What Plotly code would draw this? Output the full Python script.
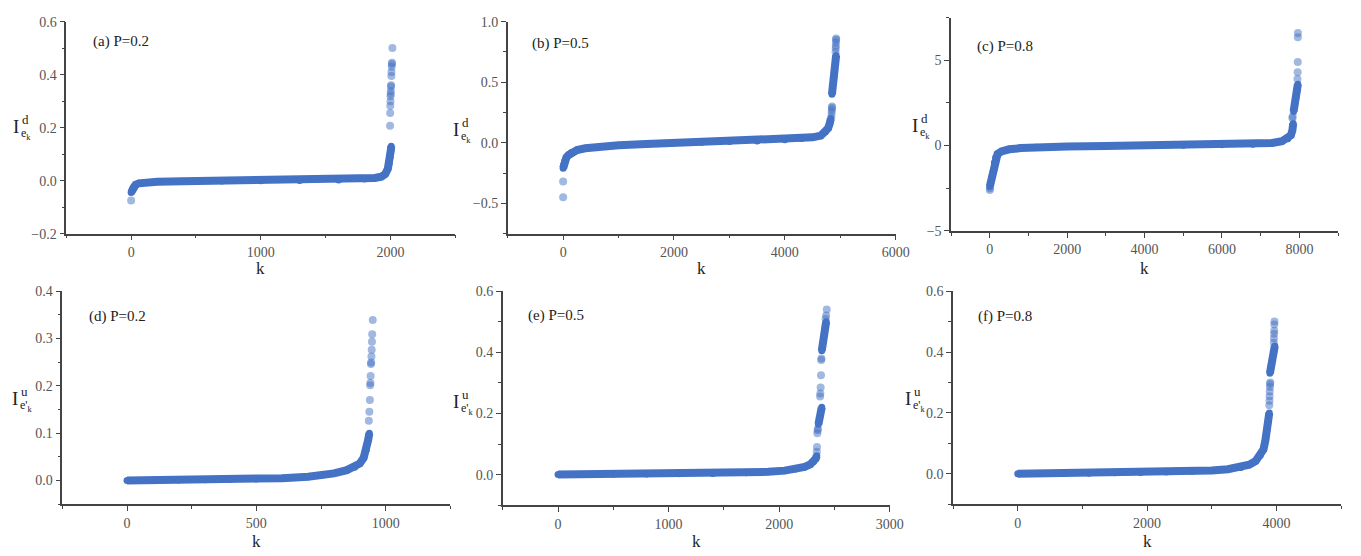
import plotly.graph_objects as go

W, H = 1361, 556
BLUE = "#4472C4"
AXC = "#444444"

# ---------------- data ----------------
# (a) P=0.2, I^d
a_core_k = [0, 5, 10, 20, 35, 60, 100, 200, 400, 700, 1000, 1300, 1600, 1800, 1880, 1930, 1960, 1980, 1990, 1998, 2003, 2006]
a_core_v = [-0.045, -0.038, -0.03, -0.022, -0.015, -0.01, -0.007, -0.004, -0.002, -0.001, 0.0, 0.001, 0.003, 0.006, 0.01, 0.015, 0.025, 0.045, 0.065, 0.09, 0.115, 0.13]
a_out_k = [0, 1997, 1998, 1999, 2000, 2001, 2002, 2003, 2004, 2005, 2007, 2008, 2010, 2011, 2012, 2015]
a_out_v = [-0.075, 0.207, 0.255, 0.283, 0.30, 0.318, 0.328, 0.338, 0.355, 0.36, 0.395, 0.41, 0.43, 0.44, 0.445, 0.50]

# (b) P=0.5, I^d
b_core_k = [0, 10, 30, 60, 100, 150, 250, 400, 700, 1000, 1500, 2000, 2500, 3000, 3500, 4000, 4300, 4500, 4650, 4730, 4780, 4810, 4830,
            None, 4850, 4865, 4880, 4895, 4910, 4925]
b_core_v = [-0.21, -0.18, -0.15, -0.12, -0.1, -0.08, -0.06, -0.045, -0.03, -0.02, -0.01, 0.0, 0.005, 0.01, 0.015, 0.025, 0.035, 0.045, 0.06, 0.09, 0.12, 0.16, 0.2,
            None, 0.40, 0.47, 0.53, 0.59, 0.65, 0.72]
b_out_k = [0, 0, 4840, 4845, 4847, 4850, 4852, 4915, 4918, 4920, 4922, 4925, 4925]
b_out_v = [-0.45, -0.32, 0.22, 0.25, 0.27, 0.29, 0.30, 0.75, 0.78, 0.80, 0.83, 0.85, 0.86]

# (c) P=0.8, I^d
c_core_k = [0, 20, 40, 60, 80, 100, 120, 150, 200, 300, 500, 800, 1200, 2000, 3000, 4000, 5000, 6000, 6800, 7300, 7550, 7700, 7780, 7820, 7840,
            None, 7850, 7880, 7910, 7940, 7960]
c_core_v = [-2.4, -2.2, -2.0, -1.8, -1.6, -1.4, -1.0, -0.7, -0.5, -0.35, -0.22, -0.15, -0.1, -0.05, -0.02, 0.0, 0.02, 0.05, 0.08, 0.15, 0.25, 0.4, 0.6, 0.9, 1.3,
            None, 2.0, 2.4, 2.8, 3.2, 3.6]
c_out_k = [0, 5, 7820, 7825, 7950, 7955, 7958, 7960, 7962]
c_out_v = [-2.6, -2.5, 1.6, 1.7, 3.9, 4.3, 4.9, 6.35, 6.6]

# (d) P=0.2, I^u
d_core_k = [0, 100, 200, 300, 400, 500, 600, 700, 750, 800, 850, 880, 900, 915, 925, 932, 937]
d_core_v = [0.0, 0.0005, 0.001, 0.0015, 0.002, 0.003, 0.005, 0.008, 0.011, 0.015, 0.022, 0.028, 0.036, 0.048, 0.065, 0.085, 0.1]
d_out_k = [935, 937, 939, 940, 941, 942, 943, 944, 945, 946, 947, 948, 950]
d_out_v = [0.126, 0.145, 0.170, 0.201, 0.206, 0.221, 0.246, 0.249, 0.262, 0.276, 0.293, 0.309, 0.339]

# (e) P=0.5, I^u
e_core_k = [0, 200, 500, 800, 1100, 1400, 1700, 1900, 2050, 2150, 2230, 2280, 2310, 2330, 2340,
            None, 2355, 2365, 2375, 2385,
            None, 2385, 2395, 2405, 2415, 2425]
e_core_v = [0.0, 0.0005, 0.001, 0.002, 0.003, 0.004, 0.006, 0.009, 0.013, 0.018, 0.025, 0.033, 0.042, 0.052, 0.062,
            None, 0.165, 0.185, 0.205, 0.22,
            None, 0.405, 0.43, 0.455, 0.48, 0.50]
e_out_k = [2340, 2342, 2345, 2348, 2350, 2370, 2372, 2375, 2378, 2380, 2382, 2420, 2425, 2430]
e_out_v = [0.075, 0.09, 0.135, 0.145, 0.15, 0.255, 0.265, 0.285, 0.325, 0.375, 0.38, 0.51, 0.52, 0.54]

# (f) P=0.8, I^u
f_core_k = [0, 300, 700, 1100, 1500, 1900, 2300, 2700, 3000, 3250, 3450, 3580, 3680, 3750, 3800, 3830, 3850, 3870, 3890,
            None, 3900, 3920, 3940, 3960, 3975]
f_core_v = [0.0, 0.0005, 0.001, 0.002, 0.003, 0.004, 0.006, 0.008, 0.011, 0.015, 0.021, 0.03, 0.042, 0.06, 0.08, 0.11, 0.14, 0.17, 0.2,
            None, 0.33, 0.355, 0.38, 0.40, 0.42]
f_out_k = [3890, 3893, 3895, 3897, 3900, 3902, 3905, 3960, 3962, 3965, 3967, 3968, 3970]
f_out_v = [0.225, 0.24, 0.255, 0.27, 0.285, 0.295, 0.30, 0.43, 0.445, 0.46, 0.47, 0.49, 0.50]

panel_titles = ["(a) P=0.2", "(b) P=0.5", "(c) P=0.8", "(d) P=0.2", "(e) P=0.5", "(f) P=0.8"]

x_ranges = [[-500, 2500], [-1000, 6000], [-1000, 9000], [-250, 1250], [-500, 3000], [-1000, 5000]]
x_ticks = [[0, 1000, 2000], [0, 2000, 4000, 6000], [0, 2000, 4000, 6000, 8000],
           [0, 500, 1000], [0, 1000, 2000, 3000], [0, 2000, 4000]]
x_minor = [500, 1000, 1000, 250, 500, 1000]
y_ranges = [[-0.2, 0.6], [-0.75, 1.0], [-5, 7.5], [-0.05, 0.4], [-0.1, 0.6], [-0.1, 0.6]]
y_ticks = [[-0.2, 0.0, 0.2, 0.4, 0.6], [-0.5, 0.0, 0.5, 1.0], [-5, 0, 5],
           [0.0, 0.1, 0.2, 0.3, 0.4], [0.0, 0.2, 0.4, 0.6], [0.0, 0.2, 0.4, 0.6]]
y_minor = [0.1, 0.25, 2.5, 0.05, 0.1, 0.1]
y_fmt = [".1f", ".1f", "d", ".1f", ".1f", ".1f"]

cores = [(a_core_k, a_core_v), (b_core_k, b_core_v), (c_core_k, c_core_v),
         (d_core_k, d_core_v), (e_core_k, e_core_v), (f_core_k, f_core_v)]
outs = [(a_out_k, a_out_v), (b_out_k, b_out_v), (c_out_k, c_out_v),
        (d_out_k, d_out_v), (e_out_k, e_out_v), (f_out_k, f_out_v)]

# ---------------- layout geometry (pixels) ----------------
dom_x = [(67, 460), (513, 905), (961, 1352), (63, 455), (508, 899), (963, 1355)]
dom_y = [(15, 233), (15, 233), (11, 230), (292, 511), (292, 512), (292, 511)]
ylab_pos = [(16, 123), (461, 126), (925, 122), (15, 402), (461, 405), (917, 402)]
title_pos = [(92, 35), (536, 37), (985, 41), (88, 318), (531, 317), (986, 318)]
k_y = [269, 269, 269, 549, 549, 549]

def px(x):
    return x / W

def py(y):
    return 1 - y / H

fig = go.Figure()
layout = dict(width=W, height=H, margin=dict(l=0, r=0, t=0, b=0),
              paper_bgcolor="white", plot_bgcolor="white", showlegend=False)
annotations = []
tickfont = dict(family="Liberation Serif", size=14, color="#555555")
for i in range(6):
    n = "" if i == 0 else str(i + 1)
    xa, ya = "x" + n, "y" + n
    ck, cv = cores[i]
    ok, ov = outs[i]
    fig.add_trace(go.Scatter(x=ok, y=ov, mode="markers", xaxis=xa, yaxis=ya,
                             marker=dict(size=8, color=BLUE, opacity=0.5, line=dict(width=0)),
                             hoverinfo="skip"))
    fig.add_trace(go.Scatter(x=ck, y=cv, mode="lines+markers", xaxis=xa, yaxis=ya,
                             line=dict(color=BLUE, width=8),
                             marker=dict(size=7, color=BLUE, line=dict(width=0)),
                             connectgaps=False, hoverinfo="skip"))
    x0, x1 = dom_x[i]
    y0, y1 = dom_y[i]
    layout["xaxis" + n] = dict(domain=[px(x0), px(x1)], range=x_ranges[i], anchor=ya,
                               tickmode="array", tickvals=x_ticks[i], ticks="outside", ticklen=5,
                               tickwidth=1.2, tickcolor=AXC, showline=True, linecolor=AXC, linewidth=1.5,
                               showgrid=False, zeroline=False, tickfont=tickfont,
                               minor=dict(ticks="outside", ticklen=3, tickwidth=1.2, tickcolor=AXC,
                                          dtick=x_minor[i], tick0=0, showgrid=False))
    layout["yaxis" + n] = dict(domain=[py(y1), py(y0)], range=y_ranges[i], anchor=xa,
                               tickmode="array", tickvals=y_ticks[i], tickformat=y_fmt[i],
                               ticks="outside", ticklen=5,
                               tickwidth=1.2, tickcolor=AXC, showline=True, linecolor=AXC, linewidth=1.5,
                               showgrid=False, zeroline=False, tickfont=tickfont,
                               minor=dict(ticks="outside", ticklen=3, tickwidth=1.2, tickcolor=AXC,
                                          dtick=y_minor[i], tick0=0, showgrid=False))
    # panel title
    tx, ty = title_pos[i]
    annotations.append(dict(text=panel_titles[i], x=px(tx), y=py(ty), xref="paper", yref="paper",
                            xanchor="left", yanchor="middle", showarrow=False,
                            font=dict(family="Liberation Serif", size=15, color="#222222")))
    # x label
    annotations.append(dict(text="k", x=px((x0 + x1) / 2), y=py(k_y[i]), xref="paper", yref="paper",
                            xanchor="center", yanchor="middle", showarrow=False,
                            font=dict(family="Liberation Serif", size=17, color="#222222")))
    # y label  I^{d}_{e_k}  or  I^{u}_{e'_k}
    lx, ly = ylab_pos[i]
    sup = "d" if i < 3 else "u"
    sub = "e<sub>k</sub>" if i < 3 else "e'<sub>k</sub>"
    annotations.append(dict(text="I", x=px(lx), y=py(ly), xref="paper", yref="paper",
                            xanchor="center", yanchor="middle", showarrow=False,
                            font=dict(family="Liberation Serif", size=19, color="#222222")))
    annotations.append(dict(text=sup, x=px(lx + 4), y=py(ly - 7), xref="paper", yref="paper",
                            xanchor="left", yanchor="middle", showarrow=False,
                            font=dict(family="Liberation Serif", size=13, color="#222222")))
    annotations.append(dict(text=sub, x=px(lx + 3), y=py(ly + 8), xref="paper", yref="paper",
                            xanchor="left", yanchor="middle", showarrow=False,
                            font=dict(family="Liberation Serif", size=12, color="#222222")))

layout["annotations"] = annotations
fig.update_layout(**layout)
fig.write_html("out.html", config={"displayModeBar": False},
               post_script="document.body.style.margin='0';document.body.style.overflow='hidden';")
